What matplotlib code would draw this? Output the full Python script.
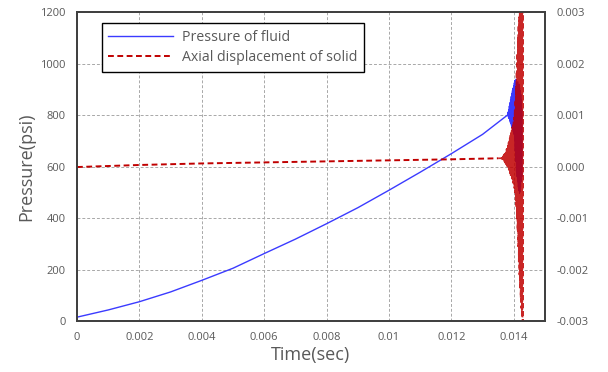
import matplotlib

matplotlib.use("Agg")
import matplotlib.pyplot as plt
import numpy as np

plt.rcParams["font.family"] = ["Open Sans", "DejaVu Sans"]

# ---- data ---------------------------------------------------------------
# smooth rise of fluid pressure (psi)
p_time = [0, 0.001, 0.002, 0.003, 0.004, 0.005, 0.006, 0.007, 0.008,
          0.009, 0.010, 0.011, 0.012, 0.013, 0.0138]
p_value = [15, 43, 75, 113, 158, 205, 262, 318, 378,
           440, 508, 578, 650, 725, 800]

# pressure oscillation burst, sampled every 10 us from 0.01381 to 0.01427
p_burst_start, p_burst_end = 0.01381, 0.01427
p_burst = [812, 792, 822, 786, 835, 780, 848, 772, 860, 765,
           872, 758, 885, 750, 895, 742, 905, 735, 915, 725,
           925, 700, 935, 660, 930, 620, 940, 580, 925, 560,
           920, 540, 930, 520, 915, 505, 920, 495, 905, 500,
           895, 520, 880, 540, 860, 560, 820]

# axial displacement of solid (x1e-3)
d_time = [0, 0.002, 0.004, 0.006, 0.008, 0.010, 0.012, 0.0135]
d_value = [-0.01, 0.03, 0.06, 0.08, 0.10, 0.12, 0.14, 0.16]

# displacement burst, sampled every 10 us from 0.01360 to 0.01430
d_burst_start, d_burst_end = 0.01360, 0.01430
d_burst = [0.16, 0.17, 0.15, 0.18, 0.14, 0.19, 0.13, 0.21, 0.12, 0.23,
           0.10, 0.25, 0.08, 0.28, 0.06, 0.31, 0.04, 0.34, 0.02, 0.38,
           0.00,
           0.42, -0.03, 0.46, -0.06, 0.50, -0.10, 0.55, -0.13, 0.60,
           -0.17, 0.65, -0.20, 0.70, -0.24, 0.76, -0.28, 0.82, -0.32,
           0.88, -0.36,
           0.95, -0.42, 1.10, -0.50, 1.30, -0.65, 1.55, -0.80, 1.85,
           -1.00,
           2.20, -1.25, 2.50, -1.55, 2.75, -1.85, 2.90, -2.10, 3.00,
           -2.35, 3.10, -2.55, 3.20, -2.75, 3.30, -2.90, 3.40, -3.10,
           3.50, -3.50]

x_ticks = [0, 0.002, 0.004, 0.006, 0.008, 0.010, 0.012, 0.014]
x_labels = ["0", "0.002", "0.004", "0.006", "0.008", "0.01", "0.012", "0.014"]
y_ticks = [0, 200, 400, 600, 800, 1000, 1200]
y2_ticks = [-0.003, -0.002, -0.001, 0.0, 0.001, 0.002, 0.003]
y2_labels = ["-0.003", "-0.002", "-0.001", "0.000", "0.001", "0.002", "0.003"]

# ---- assemble series ----------------------------------------------------
t_pb = np.linspace(p_burst_start, p_burst_end, len(p_burst))
t_db = np.linspace(d_burst_start, d_burst_end, len(d_burst))
d_burst = np.array(d_burst) * 1e-3
d_value = np.array(d_value) * 1e-3

# ---- plot ---------------------------------------------------------------
txt = "#595959"
blue, red = "#3b3bff", "#c00000"
red_ls = (0, (3, 1.8))
fig = plt.figure(figsize=(6.08, 3.72), dpi=100)
ax = fig.add_axes([0.1266, 0.137, 0.7698, 0.8307])
ax2 = ax.twinx()

ax.plot(p_time, p_value, color=blue, lw=1.0, label="Pressure of fluid")
ax.plot(np.r_[p_time[-1], t_pb], np.r_[p_value[-1], p_burst],
        color=blue, lw=0.6)
ax2.plot(d_time, d_value, color=red, lw=1.4, ls=red_ls,
         label="Axial displacement of solid")
ax2.plot(np.r_[d_time[-1], t_db], np.r_[d_value[-1], d_burst],
         color=red, lw=1.2, ls=red_ls, alpha=0.85)

ax.set_xlim(0, 0.015)
ax.set_ylim(0, 1200)
ax2.set_ylim(-0.003, 0.003)
ax.set_xticks(x_ticks, x_labels)
ax.set_yticks(y_ticks)
ax2.set_yticks(y2_ticks, y2_labels)

ax.grid(True, color="#a8a8a8", ls=(0, (3, 2)), lw=0.7)
for a in (ax, ax2):
    a.tick_params(length=0, labelsize=8, colors=txt, pad=8)
    for s in a.spines.values():
        s.set_color("#404040")
        s.set_linewidth(1.3)

ax.set_xlabel("Time(sec)", fontsize=13, color=txt, labelpad=2)
ax.set_ylabel("Pressure(psi)", fontsize=13, color=txt, labelpad=4)

h1, l1 = ax.get_legend_handles_labels()
h2, l2 = ax2.get_legend_handles_labels()
leg = ax2.legend(h1 + h2, l1 + l2, loc="upper left",
                 bbox_to_anchor=(0.053, 0.964), borderaxespad=0,
                 fontsize=10.2, fancybox=False, framealpha=1,
                 edgecolor="black", handlelength=4.6, borderpad=0.45,
                 labelspacing=0.4, handletextpad=0.6)
leg.get_frame().set_linewidth(1.0)
for t in leg.get_texts():
    t.set_color(txt)

fig.savefig("out.png", dpi=100)
